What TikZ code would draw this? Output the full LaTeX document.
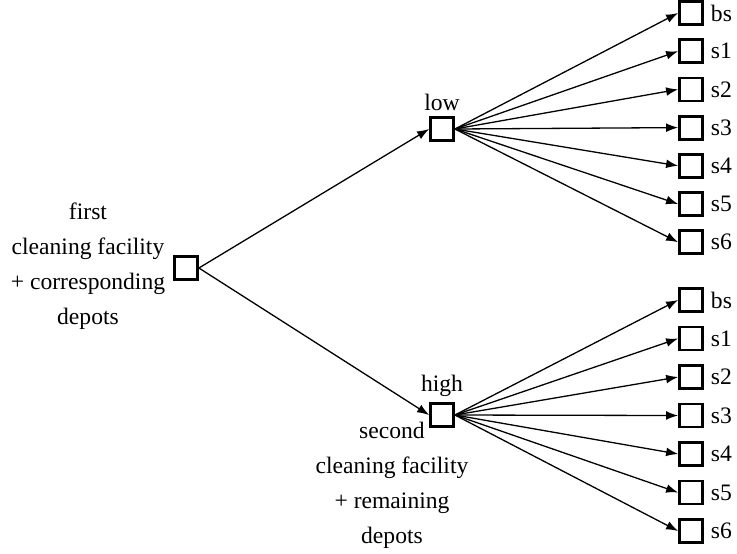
\documentclass[tikz,border=0pt]{standalone}
\usepackage{fontspec}
\setmainfont{Liberation Serif}
\usetikzlibrary{arrows.meta, positioning}

\begin{document}
\begin{tikzpicture}[x=0.5pt, y=-0.5pt,
  box/.style={draw, line width=1.4pt, minimum size=11.5pt, inner sep=0pt},
  txt/.style={align=center, font=\fontsize{11.8}{17.5}\selectfont},
  arr/.style={line width=0.65pt, -{Latex[length=6pt, width=4.4pt]}}]
\useasboundingbox (0,0) rectangle (737,553);

\node[box] (root) at (186, 268) {};
\node[txt] (first) at (88, 266) {first\\cleaning facility\\+ corresponding\\depots};

\node[box, label={[txt, label distance=-1pt]above:low}] (low) at (442, 129) {};
\node[box, label={[txt, label distance=-1pt]above:high}] (high) at (442, 415) {};
\node[txt] (second) at (392, 485) {second\\cleaning facility\\+ remaining\\depots};

\draw[arr] (root.east) -- (low.west);
\draw[arr] (root.east) -- (high.west);

% outcomes of each branch
\foreach \lab [count=\i from 0] in {bs,s1,s2,s3,s4,s5,s6} {
  \node[box, label={[txt]right:\lab}] (lo\i) at (691, 13+38.2*\i) {};
  \draw[arr] (low.east) -- (lo\i.west);
  \node[box, label={[txt]right:\lab}] (hi\i) at (691, 300+38.5*\i) {};
  \draw[arr] (high.east) -- (hi\i.west);
}
\end{tikzpicture}
\end{document}
